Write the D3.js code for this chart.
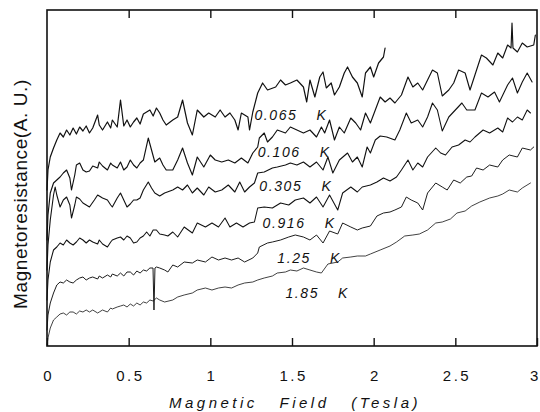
<!DOCTYPE html>
<html>
<head>
<meta charset="utf-8">
<script src="https://cdn.jsdelivr.net/npm/d3@7"></script>
<style>
  body { margin: 0; background: #fff; }
  svg { display: block; }
  .curve { fill: none; stroke: #111; stroke-linejoin: round; stroke-linecap: round; }
</style>
</head>
<body>
<svg id="chart" width="540" height="412"></svg>
<script>
// ── Data (field in Tesla, magnetoresistance in arbitrary units) ──────────────
const temperatures = ["0.065", "0.106", "0.305", "0.916", "1.25", "1.85"];

const trace065 = [
  [0, 1.56], [0.006, 1.76], [0.02, 1.89], [0.04, 1.98], [0.06, 2.06], [0.08, 2.13], [0.10, 2.09],
  [0.12, 2.16], [0.14, 2.11], [0.16, 2.18], [0.18, 2.12], [0.20, 2.19], [0.22, 2.15], [0.24, 2.20],
  [0.26, 2.13], [0.28, 2.18], [0.31, 2.31], [0.32, 2.21], [0.34, 2.16], [0.37, 2.24], [0.39, 2.18],
  [0.40, 2.26], [0.43, 2.19], [0.45, 2.46], [0.47, 2.20], [0.49, 2.26], [0.51, 2.19], [0.53, 2.24],
  [0.55, 2.28], [0.57, 2.22], [0.59, 2.32], [0.61, 2.34], [0.63, 2.36], [0.65, 2.30], [0.67, 2.38],
  [0.69, 2.33], [0.71, 2.26], [0.73, 2.21], [0.77, 2.26], [0.80, 2.29], [0.83, 2.46], [0.86, 2.23],
  [0.89, 2.11], [0.92, 2.36], [0.96, 2.29], [0.99, 2.33], [1.03, 2.29], [1.06, 2.36], [1.09, 2.29],
  [1.12, 2.33], [1.15, 2.26], [1.17, 2.16], [1.19, 2.33], [1.23, 2.29], [1.24, 2.16], [1.26, 2.34],
  [1.29, 2.53], [1.32, 2.63], [1.35, 2.56], [1.40, 2.59], [1.43, 2.66], [1.46, 2.61], [1.49, 2.63],
  [1.53, 2.66], [1.57, 2.59], [1.59, 2.44], [1.61, 2.66], [1.64, 2.49], [1.67, 2.69], [1.69, 2.74],
  [1.71, 2.58], [1.74, 2.63], [1.76, 2.51], [1.79, 2.59], [1.82, 2.73], [1.84, 2.79], [1.87, 2.69],
  [1.90, 2.63], [1.93, 2.49], [1.95, 2.73], [1.98, 2.79], [2.00, 2.69], [2.03, 2.83], [2.06, 2.89],
  [2.07, 2.98]
];

const trace106 = [
  [0, 1.06], [0.006, 1.31], [0.02, 1.53], [0.04, 1.63], [0.06, 1.66], [0.08, 1.69], [0.10, 1.73],
  [0.12, 1.76], [0.14, 1.68], [0.15, 1.56], [0.17, 1.71], [0.18, 1.81], [0.20, 1.83], [0.22, 1.76],
  [0.24, 1.74], [0.26, 1.75], [0.28, 1.80], [0.31, 1.78], [0.32, 1.84], [0.34, 1.80], [0.37, 1.76],
  [0.39, 1.83], [0.40, 1.81], [0.43, 1.78], [0.45, 1.84], [0.47, 1.76], [0.49, 1.79], [0.51, 1.86],
  [0.53, 1.81], [0.55, 1.78], [0.57, 1.83], [0.59, 1.86], [0.62, 2.08], [0.64, 1.96], [0.66, 1.84],
  [0.69, 1.88], [0.71, 1.81], [0.73, 1.76], [0.77, 1.76], [0.80, 1.86], [0.83, 1.98], [0.86, 1.83],
  [0.89, 1.71], [0.92, 1.89], [0.96, 1.79], [1.00, 1.91], [1.03, 1.86], [1.07, 1.84], [1.11, 1.86],
  [1.15, 1.83], [1.19, 1.88], [1.23, 1.83], [1.26, 1.93], [1.29, 1.99], [1.30, 2.08], [1.33, 2.13],
  [1.35, 2.04], [1.38, 2.09], [1.41, 2.16], [1.46, 2.13], [1.49, 2.19], [1.53, 2.16], [1.57, 2.13],
  [1.61, 2.16], [1.65, 2.09], [1.68, 2.19], [1.70, 2.13], [1.73, 2.26], [1.76, 2.06], [1.79, 2.19],
  [1.82, 2.13], [1.86, 2.28], [1.89, 2.23], [1.92, 2.16], [1.95, 2.33], [1.98, 2.23], [2.01, 2.36],
  [2.04, 2.49], [2.07, 2.44], [2.10, 2.48], [2.13, 2.43], [2.17, 2.51], [2.21, 2.69], [2.24, 2.59],
  [2.27, 2.63], [2.30, 2.56], [2.33, 2.66], [2.36, 2.76], [2.39, 2.73], [2.42, 2.50], [2.46, 2.56],
  [2.49, 2.63], [2.52, 2.76], [2.56, 2.73], [2.59, 2.56], [2.62, 2.71], [2.66, 2.91], [2.69, 2.88],
  [2.73, 2.81], [2.76, 2.93], [2.79, 2.88], [2.82, 3.01], [2.841, 2.98], [2.847, 3.23], [2.853, 2.98],
  [2.88, 2.94], [2.91, 3.03], [2.94, 2.99], [2.98, 3.01], [2.99, 3.11]
];

const trace305 = [
  [0, 0.76], [0.006, 1.01], [0.02, 1.26], [0.04, 1.51], [0.05, 1.59], [0.06, 1.51], [0.08, 1.39],
  [0.10, 1.46], [0.12, 1.49], [0.14, 1.41], [0.15, 1.28], [0.17, 1.41], [0.18, 1.49], [0.20, 1.47],
  [0.22, 1.43], [0.24, 1.41], [0.26, 1.39], [0.29, 1.46], [0.31, 1.51], [0.34, 1.48], [0.37, 1.46],
  [0.39, 1.41], [0.40, 1.39], [0.43, 1.48], [0.45, 1.53], [0.47, 1.46], [0.49, 1.39], [0.51, 1.42],
  [0.53, 1.46], [0.55, 1.46], [0.57, 1.48], [0.59, 1.56], [0.62, 1.64], [0.64, 1.58], [0.66, 1.53],
  [0.69, 1.50], [0.72, 1.53], [0.77, 1.56], [0.80, 1.59], [0.83, 1.56], [0.86, 1.61], [0.89, 1.53],
  [0.92, 1.58], [0.96, 1.51], [0.99, 1.59], [1.03, 1.54], [1.07, 1.56], [1.11, 1.61], [1.15, 1.54],
  [1.18, 1.64], [1.21, 1.54], [1.24, 1.59], [1.27, 1.63], [1.29, 1.73], [1.33, 1.74], [1.38, 1.78],
  [1.41, 1.79], [1.46, 1.81], [1.49, 1.83], [1.53, 1.81], [1.57, 1.84], [1.61, 1.79], [1.65, 1.84],
  [1.69, 1.76], [1.72, 1.89], [1.75, 1.73], [1.79, 1.86], [1.84, 1.93], [1.87, 1.84], [1.90, 1.89],
  [1.93, 1.79], [1.96, 1.99], [1.98, 1.93], [2.01, 2.06], [2.04, 2.10], [2.08, 2.09], [2.13, 2.06],
  [2.16, 2.16], [2.20, 2.33], [2.23, 2.23], [2.27, 2.26], [2.30, 2.19], [2.33, 2.29], [2.36, 2.43],
  [2.39, 2.36], [2.42, 2.15], [2.46, 2.29], [2.50, 2.36], [2.54, 2.43], [2.57, 2.36], [2.62, 2.36],
  [2.66, 2.53], [2.70, 2.49], [2.74, 2.54], [2.77, 2.44], [2.82, 2.61], [2.85, 2.68], [2.88, 2.53],
  [2.91, 2.64], [2.94, 2.73], [2.97, 2.64]
];

const trace916 = [
  [0, 0.46], [0.006, 0.66], [0.02, 0.84], [0.04, 0.96], [0.06, 0.99], [0.08, 1.03], [0.10, 1.01],
  [0.12, 1.06], [0.14, 1.03], [0.16, 1.01], [0.18, 1.04], [0.20, 1.08], [0.22, 1.06], [0.24, 1.03],
  [0.26, 1.06], [0.28, 1.04], [0.31, 1.02], [0.32, 1.06], [0.34, 1.02], [0.37, 0.99], [0.39, 1.04],
  [0.40, 1.06], [0.43, 1.08], [0.45, 1.09], [0.47, 1.06], [0.49, 1.10], [0.51, 1.08], [0.53, 1.03],
  [0.55, 1.04], [0.57, 1.08], [0.59, 1.10], [0.61, 1.14], [0.63, 1.10], [0.65, 1.16], [0.67, 1.16],
  [0.69, 1.12], [0.72, 1.11], [0.74, 1.10], [0.77, 1.14], [0.80, 1.09], [0.84, 1.19], [0.89, 1.13],
  [0.92, 1.23], [0.97, 1.19], [1.01, 1.23], [1.05, 1.19], [1.09, 1.28], [1.12, 1.19], [1.16, 1.23],
  [1.20, 1.19], [1.24, 1.23], [1.27, 1.24], [1.29, 1.38], [1.33, 1.39], [1.38, 1.38], [1.43, 1.43],
  [1.48, 1.41], [1.52, 1.46], [1.57, 1.48], [1.61, 1.43], [1.65, 1.49], [1.69, 1.39], [1.73, 1.51],
  [1.78, 1.36], [1.81, 1.53], [1.86, 1.59], [1.90, 1.54], [1.93, 1.59], [1.98, 1.61], [2.02, 1.64],
  [2.06, 1.68], [2.10, 1.65], [2.14, 1.69], [2.17, 1.76], [2.21, 1.86], [2.24, 1.76], [2.27, 1.83],
  [2.30, 1.79], [2.33, 1.89], [2.38, 1.98], [2.41, 1.93], [2.44, 1.91], [2.48, 1.99], [2.52, 2.01],
  [2.56, 2.06], [2.59, 2.04], [2.62, 2.09], [2.67, 2.16], [2.71, 2.13], [2.76, 2.18], [2.79, 2.14],
  [2.82, 2.28], [2.85, 2.24], [2.88, 2.29], [2.91, 2.26], [2.94, 2.36], [2.96, 2.33]
];

const trace125 = [
  [0, 0.16], [0.006, 0.31], [0.02, 0.43], [0.04, 0.53], [0.06, 0.61], [0.08, 0.64], [0.10, 0.63],
  [0.12, 0.66], [0.14, 0.64], [0.16, 0.63], [0.18, 0.66], [0.20, 0.68], [0.22, 0.69], [0.24, 0.66],
  [0.26, 0.68], [0.28, 0.69], [0.31, 0.67], [0.32, 0.70], [0.34, 0.68], [0.37, 0.71], [0.39, 0.69],
  [0.40, 0.72], [0.43, 0.70], [0.45, 0.73], [0.47, 0.70], [0.49, 0.74], [0.51, 0.74], [0.53, 0.71],
  [0.55, 0.75], [0.57, 0.73], [0.59, 0.76], [0.61, 0.75], [0.63, 0.78], [0.649, 0.78], [0.655, 0.36],
  [0.661, 0.78], [0.67, 0.79], [0.69, 0.78], [0.72, 0.76], [0.74, 0.74], [0.77, 0.81], [0.80, 0.79],
  [0.84, 0.84], [0.89, 0.83], [0.92, 0.86], [0.97, 0.84], [1.01, 0.89], [1.05, 0.86], [1.09, 0.88],
  [1.13, 0.86], [1.17, 0.88], [1.21, 0.84], [1.26, 0.88], [1.29, 0.93], [1.30, 0.99], [1.35, 1.03],
  [1.38, 1.04], [1.43, 1.06], [1.48, 1.09], [1.52, 1.11], [1.57, 1.09], [1.61, 1.06], [1.65, 1.11],
  [1.69, 1.03], [1.73, 1.15], [1.78, 1.12], [1.81, 1.23], [1.86, 1.19], [1.90, 1.16], [1.93, 1.18],
  [1.98, 1.20], [2.02, 1.30], [2.06, 1.33], [2.10, 1.34], [2.13, 1.36], [2.17, 1.39], [2.20, 1.49],
  [2.23, 1.46], [2.27, 1.43], [2.30, 1.36], [2.33, 1.53], [2.38, 1.63], [2.42, 1.59], [2.45, 1.56],
  [2.49, 1.66], [2.53, 1.63], [2.57, 1.69], [2.60, 1.70], [2.63, 1.78], [2.67, 1.76], [2.71, 1.81],
  [2.76, 1.79], [2.79, 1.86], [2.83, 1.91], [2.88, 1.89], [2.91, 1.98], [2.96, 1.96], [2.98, 1.99]
];

const trace185 = [
  [0, 0.01], [0.006, 0.08], [0.02, 0.18], [0.04, 0.26], [0.06, 0.29], [0.08, 0.32], [0.10, 0.33],
  [0.12, 0.31], [0.14, 0.34], [0.16, 0.34], [0.18, 0.32], [0.20, 0.35], [0.22, 0.34], [0.24, 0.36],
  [0.26, 0.34], [0.28, 0.36], [0.31, 0.33], [0.32, 0.34], [0.34, 0.36], [0.37, 0.34], [0.39, 0.38],
  [0.40, 0.37], [0.43, 0.39], [0.45, 0.40], [0.47, 0.41], [0.49, 0.39], [0.51, 0.42], [0.53, 0.40],
  [0.55, 0.43], [0.57, 0.41], [0.59, 0.44], [0.61, 0.43], [0.63, 0.46], [0.65, 0.45], [0.67, 0.48],
  [0.69, 0.46], [0.72, 0.44], [0.77, 0.46], [0.80, 0.49], [0.84, 0.51], [0.89, 0.53], [0.92, 0.56],
  [0.97, 0.58], [1.01, 0.56], [1.05, 0.58], [1.09, 0.59], [1.13, 0.58], [1.17, 0.61], [1.21, 0.63],
  [1.26, 0.64], [1.29, 0.66], [1.33, 0.68], [1.38, 0.70], [1.41, 0.73], [1.46, 0.74], [1.49, 0.76],
  [1.53, 0.75], [1.57, 0.78], [1.61, 0.76], [1.65, 0.74], [1.68, 0.73], [1.72, 0.82], [1.78, 0.84],
  [1.81, 0.88], [1.86, 0.89], [1.90, 0.90], [1.95, 0.90], [1.98, 0.92], [2.04, 0.96], [2.10, 1.00],
  [2.14, 1.04], [2.19, 1.10], [2.24, 1.11], [2.28, 1.12], [2.33, 1.16], [2.38, 1.23], [2.42, 1.24],
  [2.47, 1.27], [2.51, 1.33], [2.56, 1.35], [2.60, 1.40], [2.65, 1.44], [2.71, 1.48], [2.76, 1.50],
  [2.79, 1.52], [2.83, 1.56], [2.88, 1.54], [2.91, 1.58], [2.96, 1.63]
];

// where each temperature label sits (field, A.U.)
const labelField = [1.27, 1.29, 1.30, 1.32, 1.41, 1.46];
const labelValue = [2.26, 1.89, 1.55, 1.18, 0.83, 0.48];

const xTicks = [0, 0.5, 1, 1.5, 2, 2.5, 3];
const xTickLabels = ["0", "0.5", "1", "1.5", "2", "2.5", "3"];

const series = [trace065, trace106, trace305, trace916, trace125, trace185];
const strokeWidths = [1.2, 1.15, 1.1, 1.05, 0.95, 0.8];

// ── Layout ────────────────────────────────────────────────────────────────────
const svg = d3.select("#chart");
const plot = { left: 47, right: 537, top: 10, bottom: 346 };
const font = "'Liberation Sans', Arial, Helvetica, sans-serif";

const x = d3.scaleLinear().domain([0, 3]).range([plot.left, plot.right]);
const y = d3.scaleLinear().domain([0, 3.36]).range([plot.bottom, plot.top]);

// ── Traces ───────────────────────────────────────────────────────────────────
const line = d3.line().x((d) => x(d[0])).y((d) => y(d[1]));

svg.append("g")
  .selectAll("path")
  .data(series)
  .join("path")
  .attr("class", "curve")
  .attr("stroke-width", (d, i) => strokeWidths[i])
  .attr("d", line);

// ── Frame + ticks ────────────────────────────────────────────────────────────
svg.append("rect")
  .attr("x", plot.left).attr("y", plot.top)
  .attr("width", plot.right - plot.left).attr("height", plot.bottom - plot.top)
  .attr("fill", "none").attr("stroke", "#111").attr("stroke-width", 1.6);

const bottomAxis = svg.append("g")
  .attr("transform", `translate(0,${plot.bottom})`)
  .call(d3.axisBottom(x).tickValues(xTicks).tickSize(-8).tickSizeOuter(0).tickPadding(24)
    .tickFormat((d, i) => xTickLabels[i]));

const topAxis = svg.append("g")
  .attr("transform", `translate(0,${plot.top})`)
  .call(d3.axisTop(x).tickValues(xTicks.slice(1, -1)).tickSize(-8).tickSizeOuter(0).tickFormat(""));

[bottomAxis, topAxis].forEach((g) => {
  g.select(".domain").remove();
  g.selectAll(".tick line").attr("stroke", "#111").attr("stroke-width", 1.4);
});

bottomAxis.selectAll(".tick text")
  .attr("font-family", font)
  .attr("font-size", 15)
  .attr("letter-spacing", "2.5px")
  .attr("dx", (d, i) => (i === xTicks.length - 1 ? "-2px" : "1.2px"))
  .attr("fill", "#111");

// ── Temperature labels ───────────────────────────────────────────────────────
const labels = svg.append("g")
  .attr("font-family", font)
  .attr("font-style", "italic")
  .attr("font-size", 14)
  .attr("fill", "#111");

temperatures.forEach((t, i) => {
  const txt = labels.append("text")
    .attr("x", x(labelField[i]))
    .attr("y", y(labelValue[i]))
    .attr("letter-spacing", "1.6px");
  txt.append("tspan").text(t);
  txt.append("tspan").attr("dx", 19).text("K");
});

// ── Axis titles ──────────────────────────────────────────────────────────────
svg.append("text")
  .attr("x", 295)
  .attr("y", 408)
  .attr("text-anchor", "middle")
  .attr("font-family", font)
  .attr("font-style", "italic")
  .attr("font-size", 15)
  .attr("letter-spacing", "3.5px")
  .attr("word-spacing", "14px")
  .attr("fill", "#111")
  .text("Magnetic Field (Tesla)");

svg.append("text")
  .attr("transform", "translate(27,194) rotate(-90)")
  .attr("text-anchor", "middle")
  .attr("font-family", font)
  .attr("font-size", 19)
  .attr("letter-spacing", "0.6px")
  .attr("fill", "#111")
  .text("Magnetoresistance(A. U.)");
</script>
</body>
</html>
